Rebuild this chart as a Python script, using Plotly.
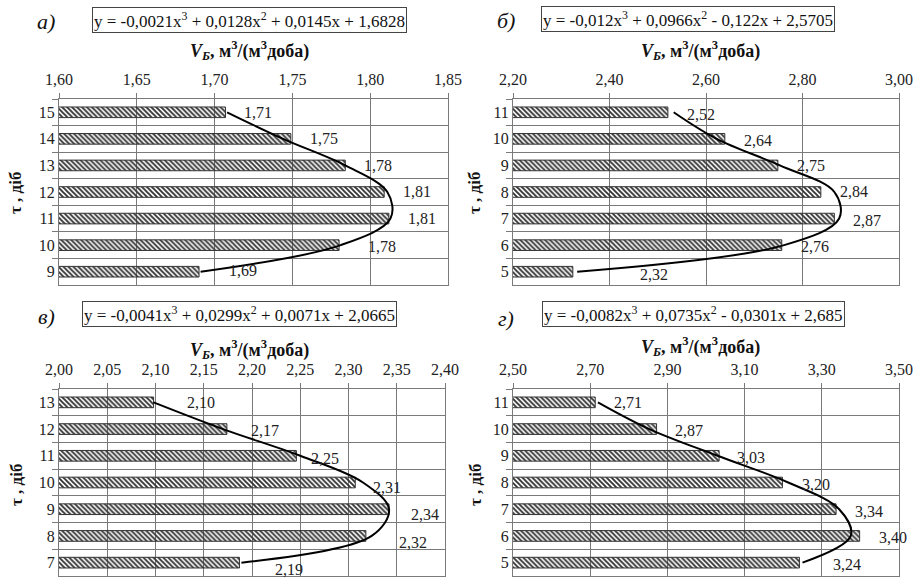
import plotly.graph_objects as go

W, H = 914, 579

# ---------------- data ----------------
cat_a = ["15", "14", "13", "12", "11", "10", "9"]
val_a = [1.707, 1.749, 1.784, 1.809, 1.812, 1.780, 1.690]
trend_a = [1.708, 1.744, 1.784, 1.811, 1.813, 1.781, 1.691]
eq_a = "y = -0,0021x<sup>3</sup> + 0,0128x<sup>2</sup> + 0,0145x + 1,6828"

cat_b = ["11", "10", "9", "8", "7", "6", "5"]
val_b = [2.521, 2.639, 2.749, 2.838, 2.866, 2.757, 2.324]
trend_b = [2.533, 2.622, 2.753, 2.866, 2.876, 2.762, 2.333]
eq_b = "y = -0,012x<sup>3</sup> + 0,0966x<sup>2</sup> - 0,122x + 2,5705"

cat_c = ["13", "12", "11", "10", "9", "8", "7"]
val_c = [2.098, 2.174, 2.246, 2.307, 2.342, 2.318, 2.187]
trend_c = [2.098, 2.170, 2.250, 2.315, 2.342, 2.324, 2.189]
eq_c = "y = -0,0041x<sup>3</sup> + 0,0299x<sup>2</sup> + 0,0071x + 2,0665"

cat_d = ["11", "10", "9", "8", "7", "6", "5"]
val_d = [2.713, 2.872, 3.034, 3.198, 3.337, 3.398, 3.242]
trend_d = [2.720, 2.853, 3.030, 3.213, 3.345, 3.375, 3.250]
eq_d = "y = -0,0082x<sup>3</sup> + 0,0735x<sup>2</sup> - 0,0301x + 2,685"

x_ranges = [(1.60, 1.85, 0.05), (2.20, 3.00, 0.20), (2.00, 2.40, 0.05), (2.50, 3.50, 0.20)]
panel_letters = ["а)", "б)", "в)", "г)"]
x_title = "<b><i>V<sub>Б</sub></i>, м<sup>3</sup>/(м<sup>3</sup>доба)</b>"
y_title = "<b>τ , діб</b>"

# ---------------- layout geometry (pixels) ----------------
def px(x):
    return x / W

def py(y):
    return 1 - y / H

panels = [
    dict(cats=cat_a, vals=val_a, trend=trend_a, eq=eq_a,
         box=(59, 448, 99, 285), eqc=(249, 20), let=(46, 21), xt=(250, 50), yt=(16, 193),
         xs=[17, 17, 17, 17, 17, 27, 28], ys=[0, 0, 0, 0, 0, -1, 1]),
    dict(cats=cat_b, vals=val_b, trend=trend_b, eq=eq_b,
         box=(513, 899, 99, 285), eqc=(688, 19), let=(506, 20), xt=(700, 50), yt=(475, 193),
         xs=[17, 17, 17, 17, 17, 17, 65], ys=[-2, -2, 0, 0, -2, -1, -3]),
    dict(cats=cat_c, vals=val_c, trend=trend_c, eq=eq_c,
         box=(59, 445, 389, 576), eqc=(239, 314), let=(46, 316), xt=(250, 349), yt=(16, 485),
         xs=[31, 22, 13, 16, 20, 31, 34], ys=[0, -1, -3, -5, -5, -7, -7]),
    dict(cats=cat_d, vals=val_d, trend=trend_d, eq=eq_d,
         box=(513, 899, 389, 576), eqc=(693, 314), let=(506, 318), xt=(700, 347), yt=(475, 485),
         xs=[17, 16, 16, 18, 17, 17, 32], ys=[0, -1, -2, -2, -2, -2, -2]),
]

SERIF = "Liberation Serif"
GRID = "#7a7a7a"
TXT = "#222222"

fig = go.Figure()
annotations = []

for i, p in enumerate(panels):
    n = "" if i == 0 else str(i + 1)
    xa, ya = "x" + n, "y" + n
    x0, x1, y0, y1 = p["box"]
    lo, hi, step = x_ranges[i]
    ncat = len(p["cats"])

    fig.add_trace(go.Bar(
        x=p["vals"], y=p["cats"], orientation="h",
        xaxis=xa, yaxis=ya,
        marker=dict(color="white",
                    line=dict(color="#333333", width=1),
                    pattern=dict(shape="\\", fgcolor="#333333", size=3.5, solidity=0.55)),
        showlegend=False, hoverinfo="x+y",
    ))
    fig.add_trace(go.Scatter(
        x=p["trend"], y=p["cats"], mode="lines",
        xaxis=xa, yaxis=ya,
        line=dict(color="black", width=2, shape="spline", smoothing=1.0),
        showlegend=False, hoverinfo="skip",
    ))

    fig.update_layout(**{
        ("xaxis" + n): dict(
            domain=[px(x0), px(x1)], anchor=ya, side="top",
            range=[lo, hi], dtick=step, tick0=lo, tickformat=".2f",
            showgrid=True, gridcolor=GRID, gridwidth=1,
            showline=True, linecolor=GRID, linewidth=1, mirror=True,
            ticks="outside", ticklen=5, tickcolor=GRID, ticklabelstandoff=2,
            ticklabeloverflow="allow",
            tickfont=dict(family=SERIF, size=16, color=TXT),
            zeroline=False, fixedrange=True, automargin=False,
        ),
        ("yaxis" + n): dict(
            domain=[py(y1), py(y0)], anchor=xa,
            type="category", categoryorder="array", categoryarray=p["cats"],
            range=[ncat - 0.5, -0.5], tickson="boundaries",
            showgrid=True, gridcolor=GRID, gridwidth=1,
            showline=True, linecolor=GRID, linewidth=1, mirror=True,
            ticks="outside", ticklen=6, tickcolor=GRID,
            tickfont=dict(family=SERIF, size=16, color=TXT),
            zeroline=False, fixedrange=True, automargin=False,
        ),
    })

    # value labels (positioned at category index on the category axis)
    for k, v in enumerate(p["vals"]):
        annotations.append(dict(
            x=v, y=k, xref=xa, yref=ya, text=f"{v:.2f}".replace(".", ","),
            showarrow=False, xanchor="left", yanchor="middle",
            xshift=p["xs"][k], yshift=p["ys"][k],
            font=dict(family=SERIF, size=16, color=TXT),
        ))

    # equation box
    annotations.append(dict(
        x=px(p["eqc"][0]), y=py(p["eqc"][1]), xref="paper", yref="paper",
        text=p["eq"], showarrow=False, xanchor="center", yanchor="middle",
        font=dict(family=SERIF, size=17, color="#111"),
        bordercolor="#444", borderwidth=1, borderpad=1, bgcolor="white",
    ))
    # panel letter
    annotations.append(dict(
        x=px(p["let"][0]), y=py(p["let"][1]), xref="paper", yref="paper",
        text="<i>" + panel_letters[i] + "</i>", showarrow=False,
        xanchor="center", yanchor="middle",
        font=dict(family=SERIF, size=22, color="#111"),
    ))
    # x axis title
    annotations.append(dict(
        x=px(p["xt"][0]), y=py(p["xt"][1]), xref="paper", yref="paper",
        text=x_title, showarrow=False, xanchor="center", yanchor="middle",
        font=dict(family=SERIF, size=18, color="#111"),
    ))
    # y axis title
    annotations.append(dict(
        x=px(p["yt"][0]), y=py(p["yt"][1]), xref="paper", yref="paper",
        text=y_title, showarrow=False, xanchor="center", yanchor="middle",
        textangle=-90, font=dict(family=SERIF, size=17, color="#111"),
    ))

fig.update_layout(
    template="none",
    width=W, height=H,
    margin=dict(l=0, r=0, t=0, b=0),
    paper_bgcolor="white", plot_bgcolor="white",
    bargap=0.6, separators=", ",
    annotations=annotations,
    showlegend=False,
)

fig.write_html("out.html", config={"displayModeBar": False},
               post_script="document.body.style.margin='0px';")
